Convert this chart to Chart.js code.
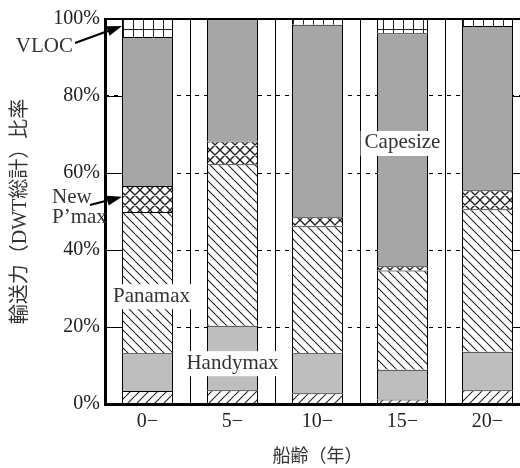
<!DOCTYPE html>
<html>
<head>
<meta charset="utf-8">
<script src="https://cdn.jsdelivr.net/npm/chart.js@4/dist/chart.umd.min.js"></script>
<style>
  html, body { margin: 0; padding: 0; background: #fff; overflow: hidden; }
  #wrap { width: 540px; height: 468px; }
</style>
</head>
<body>
<div id="wrap"><canvas id="c" width="540" height="468"></canvas></div>
<script>
// ---- data (percent of total DWT) ----
const categories = ['0−', '5−', '10−', '15−', '20−'];
const handysize  = [3.4, 3.6, 2.8, 1.2, 3.6];
const handymax   = [9.8, 16.7, 10.4, 7.7, 10.0];
const panamax    = [36.7, 42.0, 33.0, 25.8, 37.0];
const newPmax    = [6.7, 5.9, 2.3, 1.1, 4.9];
const capesize   = [38.7, 31.8, 50.0, 60.5, 42.7];
const vloc       = [4.7, null, 1.5, 3.7, 1.8];
const yTicks     = [0, 20, 40, 60, 80, 100];

const SERIF = "'Liberation Serif', 'Noto Sans CJK JP', serif";
const canvas = document.getElementById('c');
const ctx0 = canvas.getContext('2d');

function makePattern(w, h, draw) {
  const c = document.createElement('canvas');
  c.width = w; c.height = h;
  const g = c.getContext('2d');
  g.fillStyle = '#fff';
  g.fillRect(0, 0, w, h);
  g.strokeStyle = '#222';
  g.lineWidth = 1.1;
  draw(g, w, h);
  return ctx0.createPattern(c, 'repeat');
}
const patBack = makePattern(9, 9, (g, w, h) => {
  g.beginPath();
  for (const k of [-w, 0, w]) { g.moveTo(k, 0); g.lineTo(k + w, h); }
  g.stroke();
});
const patFwd = makePattern(9, 9, (g, w, h) => {
  g.beginPath();
  for (const k of [-w, 0, w]) { g.moveTo(k, h); g.lineTo(k + w, 0); }
  g.stroke();
});
const patCross = makePattern(10, 10, (g, w, h) => {
  g.lineWidth = 1.4;
  g.beginPath();
  for (const k of [-w, 0, w]) {
    g.moveTo(k, 0); g.lineTo(k + w, h);
    g.moveTo(k, h); g.lineTo(k + w, 0);
  }
  g.stroke();
});
const patGrid = makePattern(10, 10, (g, w, h) => {
  g.lineWidth = 1;
  g.beginPath();
  g.moveTo(3.5, 0); g.lineTo(3.5, h);
  g.moveTo(0, 9.5); g.lineTo(w, 9.5);
  g.stroke();
});

function ds(label, data, bg) {
  return {
    label, data, backgroundColor: bg,
    borderColor: '#000', borderWidth: { top: 1, left: 1, right: 1, bottom: 0 },
    borderSkipped: false,
    categoryPercentage: 1.0, barPercentage: 0.6
  };
}

const overlay = {
  id: 'overlay',
  afterDatasetsDraw(chart) {
    const { ctx, chartArea: a, scales: { x, y } } = chart;
    const half = chart.getDatasetMeta(0).data[0].width / 2;
    const bar0L = x.getPixelForValue(0) - half;
    const barLastR = x.getPixelForValue(categories.length - 1) + half;
    ctx.save();
    // inward solid ticks at the side axes
    ctx.strokeStyle = '#000';
    ctx.lineWidth = 1;
    ctx.setLineDash([]);
    yTicks.forEach(v => {
      if (v <= 0 || v >= 100) return;
      const py = Math.round(y.getPixelForValue(v)) + 0.5;
      ctx.beginPath();
      ctx.moveTo(a.left, py); ctx.lineTo(bar0L, py);
      ctx.moveTo(barLastR, py); ctx.lineTo(a.right, py);
      ctx.stroke();
    });

    // in-plot labels with white boxes
    ctx.font = '21px ' + SERIF;
    ctx.textAlign = 'center';
    ctx.textBaseline = 'middle';
    function boxed(text, px, py) {
      const w = ctx.measureText(text).width;
      ctx.fillStyle = '#fff';
      ctx.fillRect(px - w / 2 - 4, py - 12, w + 8, 25);
      ctx.fillStyle = '#333';
      ctx.fillText(text, px, py);
    }
    boxed('Panamax', x.getPixelForValue(0) + 4, y.getPixelForValue(28));
    boxed('Handymax', x.getPixelForValue(1), y.getPixelForValue(10.6));
    boxed('Capesize', x.getPixelForValue(3), y.getPixelForValue(67.8));

    // frame
    ctx.strokeStyle = '#000';
    ctx.lineWidth = 2;
    ctx.beginPath();
    ctx.moveTo(a.left, a.top); ctx.lineTo(a.right, a.top);
    ctx.moveTo(a.right, a.top); ctx.lineTo(a.right, a.bottom);
    ctx.stroke();
    ctx.lineWidth = 3;
    ctx.beginPath();
    ctx.moveTo(a.left + 0.5, a.top - 1); ctx.lineTo(a.left + 0.5, a.bottom + 2);
    ctx.moveTo(a.left - 1, a.bottom + 0.5); ctx.lineTo(a.right, a.bottom + 0.5);
    ctx.stroke();

    // outside labels + arrows
    ctx.fillStyle = '#333';
    ctx.textBaseline = 'middle';
    ctx.textAlign = 'right';
    ctx.fillText('VLOC', a.left - 32, 46);
    ctx.textAlign = 'left';
    ctx.fillText('New', a.left - 53, 197);
    ctx.fillText('P’max', a.left - 53, 217);

    function arrow(x0, y0, x1, y1) {
      ctx.strokeStyle = '#000';
      ctx.fillStyle = '#000';
      ctx.lineWidth = 2;
      const ang = Math.atan2(y1 - y0, x1 - x0);
      const L = 15, W = 5;
      const bx = x1 - L * Math.cos(ang), by = y1 - L * Math.sin(ang);
      ctx.beginPath(); ctx.moveTo(x0, y0); ctx.lineTo(bx, by); ctx.stroke();
      ctx.beginPath();
      ctx.moveTo(x1, y1);
      ctx.lineTo(bx + W * Math.sin(ang), by - W * Math.cos(ang));
      ctx.lineTo(bx - W * Math.sin(ang), by + W * Math.cos(ang));
      ctx.closePath(); ctx.fill();
    }
    arrow(a.left - 30, 43, bar0L, y.getPixelForValue(98.2));
    arrow(a.left - 15, 205, bar0L, y.getPixelForValue(53.8));
    ctx.restore();
  }
};

new Chart(canvas, {
  type: 'bar',
  data: {
    labels: categories,
    datasets: [
      ds('Handysize', handysize, patFwd),
      ds('Handymax', handymax, '#bebebe'),
      ds('Panamax', panamax, patBack),
      ds('New P’max', newPmax, patCross),
      ds('Capesize', capesize, '#a6a6a6'),
      ds('VLOC', vloc, patGrid)
    ]
  },
  options: {
    responsive: false,
    animation: false,
    devicePixelRatio: 1,
    layout: { padding: { top: 19, right: 10, left: 0, bottom: 0 } },
    plugins: { legend: { display: false }, tooltip: { enabled: false } },
    scales: {
      x: {
        stacked: true,
        grid: { color: '#000', lineWidth: 1, offset: true, drawTicks: false },
        border: { display: false },
        ticks: { color: '#222', font: { family: SERIF, size: 20 }, padding: 6, maxRotation: 0 },
        title: { display: true, text: '船齢（年）', color: '#333',
                 font: { family: SERIF, size: 18 }, padding: { top: 0, bottom: 0 } },
        afterFit(s) { s.height = 64; s.paddingLeft = 0; s.paddingRight = 0; }
      },
      y: {
        stacked: true,
        min: 0, max: 100,
        afterBuildTicks(s) { s.ticks = yTicks.map(v => ({ value: v })); },
        grid: { color: '#000', lineWidth: 1, drawTicks: false },
        border: { display: false, dash: [4, 5] },
        ticks: { color: '#222', font: { family: SERIF, size: 20 }, padding: 5,
                 callback: v => v + '%' },
        title: { display: true, text: '輸送力（DWT総計）比率', color: '#333',
                 font: { family: SERIF, size: 20 }, padding: { top: 9, bottom: 0 } },
        afterFit(s) { s.width = 105; s.paddingTop = 0; s.paddingBottom = 0; }
      }
    }
  },
  plugins: [overlay]
});
</script>
</body>
</html>
